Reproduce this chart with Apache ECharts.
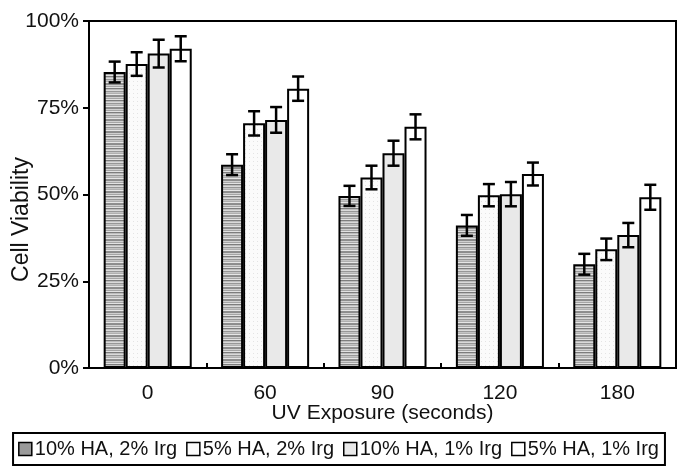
<!DOCTYPE html>
<html>
<head>
<meta charset="utf-8">
<script src="https://cdn.jsdelivr.net/npm/echarts@6/dist/echarts.min.js"></script>
<style>
html,body{margin:0;padding:0;background:#fff;}
#main{width:677px;height:470px;}
</style>
</head>
<body>
<div id="main"></div>
<script>
// ---- data ----
const categories = ['0', '60', '90', '120', '180'];
const seriesNames = ['10% HA, 2% Irg', '5% HA, 2% Irg', '10% HA, 1% Irg', '5% HA, 1% Irg'];
const ha10irg2 = [85.3, 58.6, 49.6, 41.1, 29.9];
const ha5irg2 = [87.6, 70.5, 54.9, 49.8, 34.2];
const ha10irg1 = [90.6, 71.5, 61.9, 50.1, 38.3];
const ha5irg1 = [92.0, 80.5, 69.5, 55.9, 49.2];
const err10irg2 = [3.0, 3.0, 2.9, 3.0, 3.0];
const err5irg2 = [3.4, 3.5, 3.4, 3.2, 3.1];
const err10irg1 = [4.0, 3.7, 3.6, 3.5, 3.5];
const err5irg1 = [3.6, 3.5, 3.6, 3.3, 3.6];
const yTicks = [0, 25, 50, 75, 100];

const values = [ha10irg2, ha5irg2, ha10irg1, ha5irg1];
const errors = [err10irg2, err5irg2, err10irg1, err5irg1];

// ---- styles ----
function stripePattern() {
  const c = document.createElement('canvas');
  c.width = 4; c.height = 12;
  const ctx = c.getContext('2d');
  const rows = ['#8c8c8c', '#d0d0d0', '#a5a5a5', '#e2e2e2', '#7d7d7d', '#bdbdbd',
                '#dadada', '#979797', '#c4c4c4', '#b0b0b0', '#e6e6e6', '#8f8f8f'];
  rows.forEach((col, i) => { ctx.fillStyle = col; ctx.fillRect(0, i, 4, 1); });
  return c;
}
function dotPattern() {
  const c = document.createElement('canvas');
  c.width = 4; c.height = 4;
  const ctx = c.getContext('2d');
  ctx.fillStyle = '#fbfbfb'; ctx.fillRect(0, 0, 4, 4);
  ctx.fillStyle = '#e4e4e4'; ctx.fillRect(1, 1, 1, 1);
  return c;
}
const fills = [
  { image: stripePattern(), repeat: 'repeat' },
  { image: dotPattern(), repeat: 'repeat' },
  '#e9e9e9',
  '#ffffff'
];
const legendFills = ['#9a9a9a', '#fbfbfb', '#e9e9e9', '#ffffff'];
const catGapFrac = 0.25;
const FONT = 'Liberation Sans, Arial, sans-serif';

const chart = echarts.init(document.getElementById('main'), null, { renderer: 'canvas' });

const series = [];
values.forEach((vals, i) => {
  series.push({
    name: seriesNames[i],
    type: 'bar',
    data: vals,
    barGap: '0%',
    barCategoryGap: (catGapFrac * 100) + '%',
    itemStyle: { color: fills[i], borderColor: '#000', borderWidth: 2 },
    emphasis: { disabled: true },
    z: 2
  });
});
values.forEach((vals, i) => {
  series.push({
    type: 'custom',
    name: 'err' + i,
    data: vals.map((v, k) => [k, v, errors[i][k]]),
    encode: { x: 0, y: 1 },
    z: 5,
    silent: true,
    renderItem: function (params, api) {
      const cat = api.value(0), v = api.value(1), e = api.value(2);
      const w = api.size([1, 0])[0];
      const used = w * (1 - catGapFrac);
      const bw = used / 4;
      const center = api.coord([cat, v]);
      const x = center[0] - used / 2 + bw * (i + 0.5);
      const yt = api.coord([cat, v + e])[1];
      const yb = api.coord([cat, v - e])[1];
      const cap = 6;
      const st = { stroke: '#000', lineWidth: 2.5 };
      return {
        type: 'group',
        children: [
          { type: 'line', shape: { x1: x, y1: yt, x2: x, y2: yb }, style: st },
          { type: 'line', shape: { x1: x - cap, y1: yt, x2: x + cap, y2: yt }, style: st },
          { type: 'line', shape: { x1: x - cap, y1: yb, x2: x + cap, y2: yb }, style: st }
        ]
      };
    }
  });
});

chart.setOption({
  animation: false,
  backgroundColor: '#fff',
  textStyle: { fontFamily: FONT, color: '#111' },
  grid: { left: 89, right: 1, top: 21, bottom: 102, show: true, borderColor: '#000', borderWidth: 2,
          containLabel: false, outerBoundsMode: 'none' },
  legend: {
    data: seriesNames.map((n, i) => ({ name: n, itemStyle: { color: legendFills[i], borderColor: '#000', borderWidth: 1.5 } })),
    bottom: 5,
    left: 'center',
    borderColor: '#000',
    borderWidth: 2,
    borderRadius: 0,
    padding: [6, 6, 6, 5],
    itemGap: 9,
    itemWidth: 13,
    itemHeight: 13,
    icon: 'rect',
    textStyle: { fontSize: 20, fontFamily: FONT, color: '#111', padding: [0, 0, 0, -2] },
    selectedMode: false
  },
  xAxis: {
    type: 'category',
    data: categories,
    name: 'UV Exposure (seconds)',
    nameLocation: 'middle',
    nameGap: 35,
    nameMoveOverlap: false,
    nameTextStyle: { fontSize: 21, fontFamily: FONT, color: '#111' },
    axisLine: { lineStyle: { color: '#000', width: 2 } },
    axisTick: { show: true, inside: true, length: 5, lineStyle: { color: '#000', width: 2 } },
    axisLabel: { fontSize: 21, fontFamily: FONT, color: '#111', margin: 15 },
    splitLine: { show: false }
  },
  yAxis: {
    type: 'value',
    min: 0,
    max: 100,
    interval: 25,
    name: 'Cell Viability',
    nameLocation: 'middle',
    nameGap: 56,
    nameMoveOverlap: false,
    nameTextStyle: { fontSize: 23, fontFamily: FONT, color: '#111', padding: [0, 50, 0, 0] },
    axisLine: { show: true, lineStyle: { color: '#000', width: 2 } },
    axisTick: { show: true, inside: false, length: 6, lineStyle: { color: '#000', width: 2 } },
    axisLabel: {
      fontSize: 21, fontFamily: FONT, color: '#111', margin: 10,
      formatter: function (v) { return yTicks.indexOf(v) >= 0 ? v + '%' : ''; }
    },
    splitLine: { show: false }
  },
  series: series
});
</script>
</body>
</html>
